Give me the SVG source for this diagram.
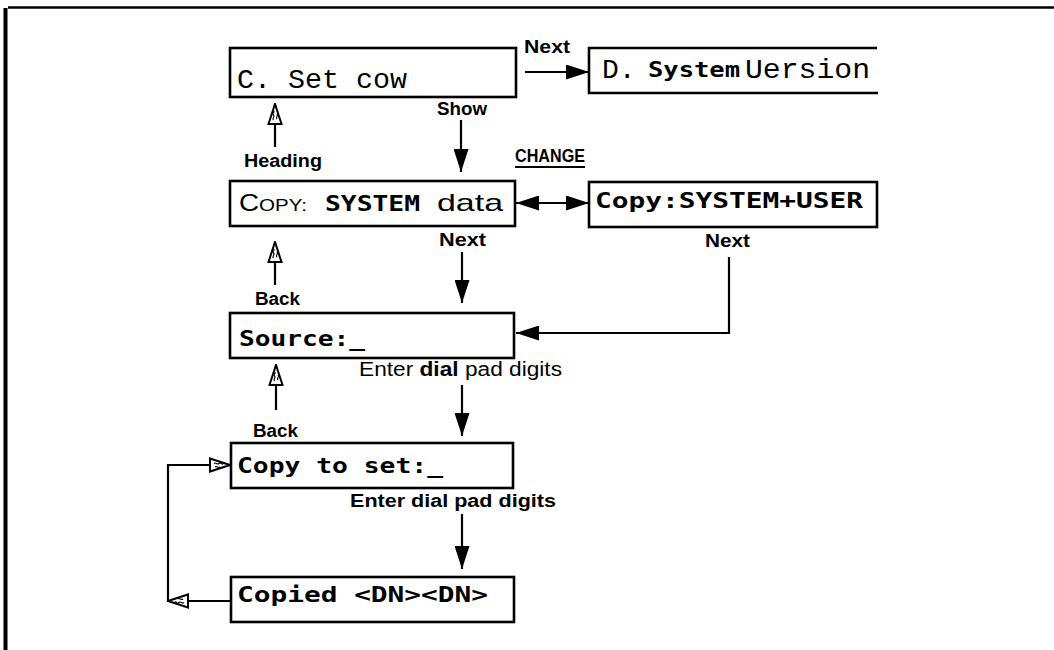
<svg xmlns="http://www.w3.org/2000/svg" width="1054" height="650" viewBox="0 0 1054 650">
<style>
.box{fill:#fff;stroke:#000;stroke-width:2.6}
.lcd{font-family:"DejaVu Sans Mono","Liberation Mono",monospace;font-weight:bold;font-size:22px;fill:#000}
.mono{font-family:"Liberation Mono","Courier New",monospace;font-size:28px;fill:#000}
.sans{font-family:"Liberation Sans",Arial,sans-serif;fill:#000}
.lbl{font-family:"Liberation Sans",Arial,sans-serif;font-weight:bold;font-size:18px;fill:#000}
.con{fill:none;stroke:#000;stroke-width:2.2}
</style>
<defs>
<marker id="ah" viewBox="0 0 23 15" refX="23" refY="7.5" markerWidth="23" markerHeight="15" markerUnits="userSpaceOnUse" orient="auto-start-reverse">
<path d="M0,0 L23,7.5 L0,15 z" fill="#000"/>
</marker>
<marker id="oh" viewBox="0 0 22 16" refX="21" refY="8" markerWidth="22" markerHeight="16" markerUnits="userSpaceOnUse" orient="auto">
<path d="M1,1.5 L21,8 L1,14.5 z" fill="#fff" stroke="#000" stroke-width="2"/>
<path d="M5,6.5 c2,-2 3,2 5,0 s3,2 4,0 M6,10 c2,-2 3,2 5,0" fill="none" stroke="#000" stroke-width="1.2"/>
</marker>
</defs>

<g id="frame" fill="none" stroke="#000">
<path d="M5.5,650 V8" stroke-width="4"/>
<path d="M8,7.5 H1054" stroke-width="2.5"/>
</g>

<g id="connectors">
<line class="con" x1="525" y1="72" x2="589" y2="72" marker-end="url(#ah)"/>
<line class="con" x1="461" y1="120" x2="461" y2="172" marker-end="url(#ah)"/>
<line class="con" x1="275" y1="147" x2="275" y2="104" marker-end="url(#oh)"/>
<line class="con" x1="516" y1="203" x2="589" y2="203" marker-start="url(#ah)" marker-end="url(#ah)"/>
<line class="con" x1="462" y1="252" x2="462" y2="303" marker-end="url(#ah)"/>
<path class="con" d="M729,257 V333 H516" marker-end="url(#ah)"/>
<line class="con" x1="275" y1="285" x2="275" y2="242" marker-end="url(#oh)"/>
<line class="con" x1="462" y1="385" x2="462" y2="436" marker-end="url(#ah)"/>
<line class="con" x1="276" y1="410" x2="276" y2="365" marker-end="url(#oh)"/>
<line class="con" x1="462" y1="514" x2="462" y2="569" marker-end="url(#ah)"/>
<line class="con" x1="231" y1="601" x2="168" y2="601" marker-end="url(#oh)"/>
<path class="con" d="M168,602 V465 H230" marker-end="url(#oh)"/>
</g>

<g id="labels">
<text class="lbl" x="524" y="53" textLength="46" lengthAdjust="spacingAndGlyphs">Next</text>
<text class="lbl" x="437" y="115" textLength="50" lengthAdjust="spacingAndGlyphs">Show</text>
<text class="lbl" x="244" y="167" textLength="78" lengthAdjust="spacingAndGlyphs">Heading</text>
<text class="lbl" x="515" y="162" font-size="15" textLength="70" lengthAdjust="spacingAndGlyphs">CHANGE</text>
<line x1="515" y1="167" x2="585" y2="167" stroke="#000" stroke-width="2"/>
<text class="lbl" x="439" y="246" textLength="47" lengthAdjust="spacingAndGlyphs">Next</text>
<text class="lbl" x="705" y="247" textLength="45" lengthAdjust="spacingAndGlyphs">Next</text>
<text class="lbl" x="255" y="305" textLength="45" lengthAdjust="spacingAndGlyphs">Back</text>
<text class="sans" x="359" y="376" font-size="20" textLength="203" lengthAdjust="spacingAndGlyphs">Enter <tspan font-weight="bold">dial</tspan> pad digits</text>
<text class="lbl" x="253" y="437" textLength="45" lengthAdjust="spacingAndGlyphs">Back</text>
<text class="lbl" x="350" y="507" font-size="20" textLength="206" lengthAdjust="spacingAndGlyphs">Enter dial pad digits</text>
</g>

<g id="node-c">
<rect class="box" x="230" y="48" width="286" height="49" stroke-width="3.2"/>
<text class="mono" x="237" y="88" textLength="170" lengthAdjust="spacingAndGlyphs">C. Set cow</text>
</g>

<g id="node-d">
<path d="M877,48 H589 V93 H878" fill="none" stroke="#000" stroke-width="2.6"/>
<text class="mono" x="602" y="78" font-size="27">D.</text>
<text class="lcd" x="648" y="77" textLength="92" lengthAdjust="spacingAndGlyphs">System</text>
<text class="mono" x="745" y="78" font-size="28" textLength="125" lengthAdjust="spacingAndGlyphs">Uersion</text>
</g>

<g id="node-copy-system">
<rect class="box" x="230" y="181" width="285" height="45"/>
<text class="sans" x="239" y="211" font-size="23" textLength="68" lengthAdjust="spacingAndGlyphs">C<tspan font-size="17">OPY:</tspan></text>
<text class="lcd" x="325" y="211" textLength="95" lengthAdjust="spacingAndGlyphs">SYSTEM</text>
<text class="sans" x="437" y="211" font-size="24" textLength="66" lengthAdjust="spacingAndGlyphs">data</text>
</g>

<g id="node-copy-user">
<rect class="box" x="589" y="182" width="288" height="45"/>
<text class="lcd" x="595" y="208" font-size="24" textLength="268" lengthAdjust="spacingAndGlyphs">Copy:SYSTEM+USER</text>
</g>

<g id="node-source">
<rect class="box" x="230" y="313" width="284" height="45"/>
<text class="lcd" x="239" y="346" font-size="24" textLength="126" lengthAdjust="spacingAndGlyphs">Source:_</text>
</g>

<g id="node-copy-to-set">
<rect class="box" x="231" y="443" width="282" height="45"/>
<text class="lcd" x="237" y="473" textLength="206" lengthAdjust="spacingAndGlyphs">Copy to set:_</text>
</g>

<g id="node-copied">
<rect class="box" x="231" y="577" width="283" height="45"/>
<text class="lcd" x="237" y="602" textLength="251" lengthAdjust="spacingAndGlyphs">Copied &lt;DN&gt;&lt;DN&gt;</text>
</g>
</svg>
